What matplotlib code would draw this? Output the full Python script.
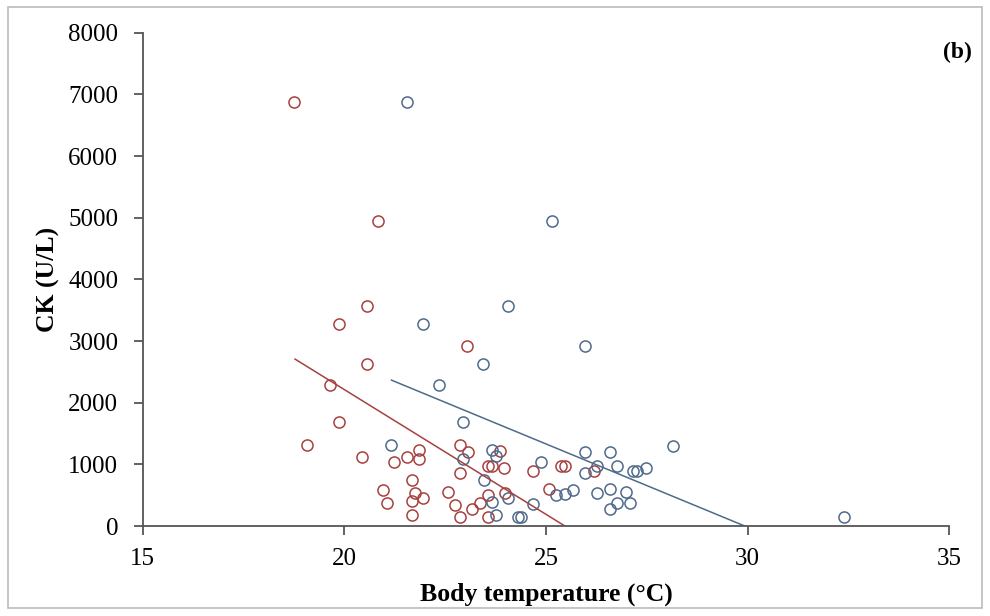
import matplotlib
matplotlib.use("Agg")
import matplotlib.pyplot as plt
from matplotlib.patches import Rectangle

plt.rcParams["font.family"] = ["Liberation Serif", "DejaVu Serif"]

# red group: body temperature (°C) vs CK (U/L)
red_temp = [18.75, 20.83, 20.57, 19.86, 23.05, 20.57, 19.64, 19.86, 19.07, 20.44,
            21.24, 21.55, 21.86, 21.86, 21.68, 20.97, 21.06, 21.75, 21.68, 21.96,
            21.68, 22.56, 22.74, 22.87, 22.87, 22.87, 23.06, 23.16, 23.36, 23.57,
            23.57, 23.57, 23.66, 23.86, 23.97, 23.99, 24.67, 25.07, 25.37, 25.48,
            26.19]
red_ck = [6870, 4950, 3560, 3270, 2920, 2630, 2290, 1690, 1310, 1120,
          1040, 1120, 1230, 1090, 740, 580, 380, 530, 400, 460,
          180, 560, 340, 150, 860, 1310, 1200, 280, 370, 500,
          150, 980, 980, 1210, 940, 540, 900, 600, 980, 980,
          900]

# blue group
blue_temp = [21.55, 25.16, 24.06, 21.94, 23.44, 22.35, 22.95, 21.15, 23.66, 23.76,
             22.95, 23.46, 23.66, 23.76, 24.06, 24.30, 25.97, 28.16, 25.97, 26.58,
             24.87, 26.27, 26.75, 27.16, 27.25, 27.47, 25.97, 25.26, 25.48, 25.67,
             26.27, 26.58, 26.98, 26.76, 27.08, 26.58, 24.67, 24.37, 32.38]
blue_ck = [6870, 4950, 3560, 3270, 2630, 2290, 1690, 1310, 1230, 1130,
           1090, 740, 390, 180, 460, 150, 2920, 1300, 1200, 1200,
           1040, 980, 980, 900, 900, 940, 860, 500, 520, 580,
           530, 600, 560, 380, 370, 280, 350, 140, 140]

# trend lines (end points)
red_fit_x = [18.78, 25.47]
red_fit_y = [2707, 0]
blue_fit_x = [21.17, 29.93]
blue_fit_y = [2366, 0]

red = "#a5413f"
blue = "#4f6a8a"

fig = plt.figure(figsize=(9.9, 6.16), dpi=100)
ax = fig.add_axes([0.144, 0.146, 0.815, 0.801])

ax.plot(red_temp, red_ck, "o", mfc="none", mec=red, ms=8, mew=1.1)
ax.plot(blue_temp, blue_ck, "o", mfc="none", mec=blue, ms=8, mew=1.1)
ax.plot(red_fit_x, red_fit_y, color=red, lw=1.1)
ax.plot(blue_fit_x, blue_fit_y, color=blue, lw=1.1)

ax.set_xlim(15, 35)
ax.set_ylim(0, 8000)
ax.set_xticks([15, 20, 25, 30, 35])
ax.set_yticks(range(0, 8001, 1000))
for s in ["top", "right"]:
    ax.spines[s].set_visible(False)
for s in ["left", "bottom"]:
    ax.spines[s].set_color("#555555")
    ax.spines[s].set_linewidth(1.3)
ax.tick_params(direction="out", length=6.5, width=1.3, color="#555555",
               labelsize=18)
ax.tick_params(axis="y", pad=11)
ax.tick_params(axis="x", pad=9)

ax.set_xlabel("Body temperature (\u00b0C)", fontsize=18.5, fontweight="bold", labelpad=9)
ax.set_ylabel("CK (U/L)", fontsize=18.5, fontweight="bold", labelpad=6)
ax.text(1.01, 0.96, "(b)", transform=ax.transAxes, fontsize=17,
        fontweight="bold", ha="center", va="center")

# chart border
fig.patches.append(Rectangle((0.008, 0.013), 0.984, 0.976, transform=fig.transFigure,
                             fill=False, edgecolor="#bbbbbb", lw=1.2))

fig.savefig("out.png", dpi=100)
